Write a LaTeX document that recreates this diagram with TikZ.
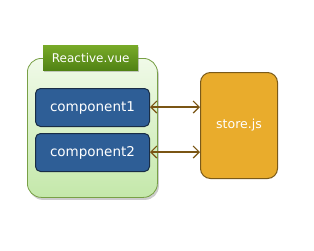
\documentclass[tikz,border=0pt]{standalone}
\usepackage{fontspec}
\setmainfont{DejaVu Sans}
\usetikzlibrary{shadows,arrows.meta}
\begin{document}
\begin{tikzpicture}[x=1pt,y=-1pt,
  comp/.style={draw={rgb,255:red,25;green,45;blue,70}, line width=1pt, fill={rgb,255:red,46;green,94;blue,150}, rounded corners=5pt, text=white, font=\fontsize{13.5}{15}\selectfont},
  link/.style={draw={rgb,255:red,122;green,85;blue,20}, line width=1.2pt, {Straight Barb[length=6pt,width=12pt]}-{Straight Barb[length=6pt,width=12pt]}}]
\useasboundingbox (0,0) rectangle (314,250);
\fill[white] (0,0) rectangle (314,250);
% outer container
\node[draw={rgb,255:red,120;green,160;blue,70}, line width=0.8pt, rounded corners=14pt,
  top color={rgb,255:red,240;green,250;blue,232}, bottom color={rgb,255:red,196;green,232;blue,170},
  drop shadow={shadow xshift=1.5pt, shadow yshift=-2.5pt, opacity=0.4},
  minimum width=130pt, minimum height=139pt, anchor=north west] (outer) at (27,58) {};
% title
\node[top color={rgb,255:red,120;green,170;blue,40}, bottom color={rgb,255:red,80;green,130;blue,20},
  drop shadow={shadow xshift=1pt, shadow yshift=-2pt, opacity=0.4},
  minimum width=95pt, minimum height=25pt, anchor=north west, text=white,
  font=\fontsize{12}{14}\selectfont] (title) at (43,45) {Reactive.vue};
\node[comp, minimum width=114pt, minimum height=38pt, anchor=north west] (c1) at (35,88) {component1};
\node[comp, minimum width=114pt, minimum height=38pt, anchor=north west] (c2) at (35,133) {component2};
\node[draw={rgb,255:red,122;green,90;blue,26}, line width=1pt, fill={rgb,255:red,233;green,172;blue,44},
  rounded corners=10pt, minimum width=77pt, minimum height=106pt, anchor=north west, text=white,
  font=\fontsize{12.5}{14}\selectfont] (store) at (200,72) {store.js};
\coordinate (a1) at (150,107);
\coordinate (b1) at (200,107);
\coordinate (a2) at (150,152);
\coordinate (b2) at (200,152);
\draw[link] (a1) -- (b1);
\draw[link] (a2) -- (b2);
\end{tikzpicture}
\end{document}
